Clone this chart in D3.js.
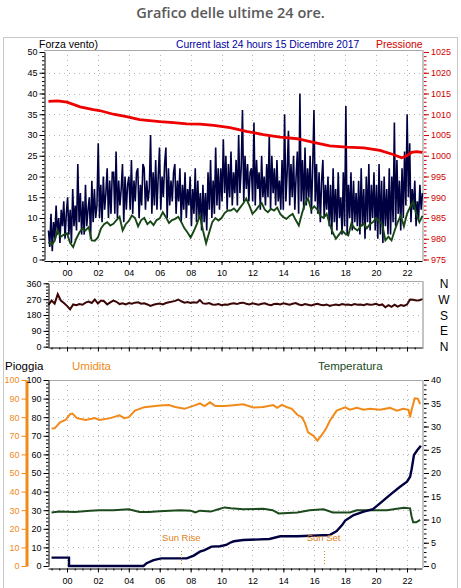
<!DOCTYPE html>
<html><head><meta charset="utf-8">
<script src="https://cdn.jsdelivr.net/npm/d3@7"></script>
<style>body{margin:0;background:#fff} svg{display:block}</style>
</head><body><svg id="c" width="461" height="588"></svg>
<script>
// ---------- DATA ----------
const hourTicks = [0,2,4,6,8,10,12,14,16,18,20,22];
const hourLabels = ["00","02","04","06","08","10","12","14","16","18","20","22"];
const seriesStart = -1.2, seriesEnd = 23.0; // hours (evenly spaced samples)

// Forza vento (raffica) - navy
const windSpeed = [7,3,11,2,9,5,13,6,10,4,12,8,14,5,11,
 15,6,12,4,17,8,13,7,23,9,16,6, 14,6,18,8,12,15,5,19,9,17,10,13, 28,10,18,9,20,12,16,22,10,19,11,21,
 21,11,26,10,19,13,17,23,9,20,12,18, 20,12,24,11,19,14,21,22,10,18,13,23, 22,12,19,14,17,30,11,21,13,24,12,20,
 27,12,20,15,23,27,10,22,13,19,14,21, 23,11,19,14,22,9,18,12,21,10,17,13, 20,8,17,11,22,9,19,10,16,7,18,9,
 16,7,21,12,24,10,19,11,27,13,22,12, 22,14,29,16,25,12,23,15,26,13,21,16, 24,13,30,16,22,36,14,25,17,23,14,21,
 22,14,33,13,24,17,21,12,25,15,20,13, 23,15,30,12,25,16,22,13,24,14,19,12, 24,12,35,14,21,31,13,23,15,25,12,20,
 26,11,40,14,24,12,27,13,22,15,25,11, 22,36,14,23,11,21,9,19,24,10,18,12, 20,8,18,6,22,9,17,7,21,10,15,6,
 21,8,37,6,18,10,21,7,19,9,16,8, 19,6,22,8,17,5,20,9,23,7,18,10, 21,7,18,5,23,6,19,4,20,8,17,6,
 22,6,20,9,33,8,24,11,19,7,22,10, 26,13,35,15,28,9,17,12,19,8,14,10,18,12,16];
// Forza vento media - dark green
const windAvg = [4.2,3.5,4.5,7,5.5,6,6.3,4,3,5,6.5,7.5,7,7.8,4.6,4.5,5.3,7.5,8.5,9,8.2,8.6,9.5,10.3,7,8.5,
 9.3,10.6,10,8,9.5,10,8.5,9.2,8.3,9.5,9.9,11.4,10.2,8.8,9.5,9.8,10.3,9,7.5,6.5,5.3,6.8,8.5,10.6,7,3.9,
 6.5,9,10,9.4,10,11.2,11.8,11.8,12.3,11.5,12.5,13.5,14.7,13,11,11.8,12.8,13.6,12,11.4,12.2,11.8,12.5,11,
 10.2,9.8,10.5,11,9.5,8.2,11,13.5,14.7,12,12.8,12,10.5,10,11,8.5,6.5,5,6,7,6.2,5.8,8.7,7.5,7,8,8.7,7.5,
 8.5,9,10,9.2,8.5,4.6,5.5,4.6,7,9,10.6,8,11,12.6,14,11,9,10.5];
// Pressione [ora, hPa]
const pressure = [[-1.2,1013.1],[-0.6,1013.2],[0,1012.9],[0.85,1011.8],[1.7,1011.1],[2.1,1010.9],[3,1010],
 [3.85,1009.4],[4.7,1008.7],[6,1008.2],[6.9,1008],[7.75,1007.7],[8.6,1007.6],[9.5,1007.3],[10.55,1006.8],
 [11.6,1005.9],[12.7,1005.1],[13.8,1004.5],[14.9,1004.1],[15.95,1003.2],[17.0,1002.4],[18.1,1002.1],
 [19.2,1001.9],[20.25,1001.3],[21.1,1000.3],[21.66,999.5],[22.0,1000],[22.3,1000.8],[22.6,1001],[23.0,1000.8]];
// Direzione vento (gradi) - evenly spaced
const windDir = [237,262,245,298,262,248,232,212,240,236,242,238,250,256,248,268,245,262,258,240,252,262,255,
 242,246,240,248,244,250,252,244,246,240,232,238,242,245,240,248,252,256,260,268,258,250,254,248,252,250,
 265,246,244,248,240,238,242,236,240,238,244,246,242,248,250,244,240,246,242,238,244,246,240,236,242,244,
 240,246,242,238,244,248,240,236,242,238,234,240,244,238,236,240,232,236,240,236,242,238,240,236,242,238,
 240,236,242,238,240,244,236,240,224,236,226,238,228,236,232,240,268,266,262,264,270];
// Umidita [ora, %]
const humidity = [[-1.0,73.9],[-0.8,74],[-0.45,77.3],[-0.1,78.5],[0.2,81.7],[0.35,82],[0.65,79.5],[1.2,78.5],
 [1.8,79.5],[2.1,78.5],[2.8,79.5],[3.4,81],[3.7,79.5],[4.0,80],[4.4,83.6],[5.0,85.4],[6.0,86.3],[6.6,86.5],
 [7.0,85.5],[7.6,84.5],[8.3,86.5],[8.6,87.4],[8.9,86],[9.25,88],[9.6,86],[10.2,86],[10.6,86.3],[11.4,87],
 [12.05,85.2],[12.7,85.5],[13.35,86.5],[13.6,85],[13.9,86.6],[14.2,85.5],[14.55,84.5],[14.9,81.3],[15.2,80],
 [15.4,76.8],[15.6,71.8],[15.95,70],[16.2,67.4],[16.5,70.6],[16.8,74.5],[17.0,78],[17.45,83.5],[18.0,85.3],
 [18.3,84],[18.75,85],[19.2,84],[19.6,84.5],[20.25,84],[20.9,85],[21.35,83.5],[21.75,84.5],[22.1,84],
 [22.2,80],[22.3,84],[22.5,90.1],[22.7,90],[22.85,87]];
// Temperatura [ora, C]
const temperature = [[-1.0,11.5],[-0.5,11.7],[0.5,11.6],[1.5,11.9],[2.1,12.0],[3,12.0],[4,12.2],[4.7,11.6],
 [5.3,11.6],[6,11.8],[7.3,12],[8.0,11.9],[8.3,11.5],[8.6,11.9],[9.3,11.7],[9.8,12.2],[10.2,12.6],[10.6,12.4],
 [11.4,12.2],[12.7,12.3],[13.3,12.0],[13.7,11.3],[14.9,11.5],[15.7,12.0],[16.6,12.2],[17.2,11.5],[18.3,11.5],
 [18.75,12],[19.6,12],[20.7,12.0],[21.35,12.3],[21.8,12.5],[22.2,12.4],[22.3,10.6],[22.4,9.4],[22.6,9.4],[22.85,9.9]];
// Pioggia [ora, mm]
const rain = [[-1.0,4.5],[0.13,4.5],[0.13,0],[4.95,0],[5.15,1.5],[5.6,3.2],[6.1,4.1],[7.75,4.1],[8.2,5.6],
 [8.6,7.7],[8.9,8.5],[9.35,10.4],[9.9,10.6],[10.3,11.3],[10.55,12.5],[10.8,13.3],[11.4,14],[13.1,14.5],
 [13.8,16],[14.9,16],[17.0,16.7],[17.45,18.8],[17.8,22],[18.0,24.4],[18.55,27.4],[19.2,29.2],[19.8,30.6],
 [20.25,33.7],[20.9,38.2],[21.55,42.6],[22.0,45.3],[22.2,48],[22.3,52],[22.45,59.7],[22.7,62.7],[22.9,64.7]];
const sunRise = 7.4, sunSet = 16.6;
const windTicks = [0,5,10,15,20,25,30,35,40,45,50];
const pressTicks = [975,980,985,990,995,1000,1005,1010,1015,1020,1025];
const dirTicks = [0,90,180,270,360];
const dirLetters = ["N","E","S","W","N"];
const pctTicks = [0,10,20,30,40,50,60,70,80,90,100];
const tempTicks = [0,5,10,15,20,25,30,35,40];

// ---------- DRAW ----------
const FONT = "'Liberation Sans', Arial, sans-serif";
const svg = d3.select("#c");
const x = d3.scaleLinear().domain([0,22]).range([67,407]);
const evenT = (arr) => arr.map((v,i) => [seriesStart + i*(seriesEnd-seriesStart)/(arr.length-1), v]);

svg.append("rect").attr("x",3.5).attr("y",37.5).attr("width",454).attr("height",560)
  .attr("fill","none").attr("stroke","#c8c8c8");
svg.append("text").attr("x",230.5).attr("y",18).attr("text-anchor","middle")
  .attr("font-family","'Open Sans', sans-serif").attr("font-weight",600).attr("font-size",14.5)
  .attr("fill","#5a5a5a").text("Grafico delle ultime 24 ore.");

function txt(xp, yp, s, color, size, anchor){
  return svg.append("text").attr("x",xp).attr("y",yp).attr("fill",color).attr("font-size",size)
    .attr("font-family",FONT).attr("text-anchor",anchor||"start").text(s);
}

function panel(left, right, top, bottom, yScale, yMajors){
  const xs = x.copy().domain([x.invert(left), x.invert(right)]).range([left,right]);
  const g = svg.append("g");
  g.selectAll(".gh").data(yMajors.filter(v => yScale(v) < bottom-2 && yScale(v) > top+2)).join("line")
    .attr("x1",left).attr("x2",right).attr("y1",d=>Math.round(yScale(d))+0.5).attr("y2",d=>Math.round(yScale(d))+0.5)
    .attr("stroke","#b4b4b4").attr("stroke-dasharray","1,4");
  g.selectAll(".gv").data(hourTicks).join("line")
    .attr("x1",d=>Math.round(xs(d))+0.5).attr("x2",d=>Math.round(xs(d))+0.5).attr("y1",top).attr("y2",bottom)
    .attr("stroke","#b4b4b4").attr("stroke-dasharray","1,4");
  g.append("line").attr("x1",left).attr("x2",right+1).attr("y1",top+0.5).attr("y2",top+0.5).attr("stroke","#a8a8a8");
  g.append("line").attr("x1",right+1).attr("x2",right+1).attr("y1",top).attr("y2",bottom+2).attr("stroke","#c4c4c4").attr("stroke-width",2);
  return xs;
}

function xAxis(xs, yPos, labels){
  const minors = d3.range(-1, 23.01, 0.5).filter(h => xs(h) >= xs.range()[0] && xs(h) <= xs.range()[1]);
  const g = svg.append("g").attr("transform",`translate(0,${yPos})`);
  g.append("g").call(d3.axisBottom(xs).tickValues(minors).tickSize(2).tickFormat("").tickSizeOuter(0))
    .call(s=>s.select(".domain").remove());
  const a = g.append("g").call(d3.axisBottom(xs).tickValues(hourTicks).tickSize(4).tickPadding(5).tickSizeOuter(0)
    .tickFormat((d,i)=> labels ? hourLabels[i] : ""));
  a.selectAll("text").attr("font-size",9).attr("font-family",FONT).attr("fill","#000");
  g.selectAll("line").attr("stroke","#000");
  a.select(".domain").attr("stroke","#000");
}

function yAxis(orient, scale, xPos, majors, minors, color, domainColor, domainWidth){
  const mk = orient === "left" ? d3.axisLeft : d3.axisRight;
  const g = svg.append("g").attr("transform",`translate(${xPos},0)`);
  if (minors) g.append("g").call(mk(scale).tickValues(minors).tickSize(2.5).tickFormat("").tickSizeOuter(0))
     .call(s=>{s.select(".domain").remove(); s.selectAll("line").attr("stroke",color);});
  const a = g.append("g").call(mk(scale).tickValues(majors).tickSize(5).tickPadding(2).tickSizeOuter(0)
     .tickFormat(d3.format("d")));
  a.select(".domain").attr("stroke",domainColor).attr("stroke-width",domainWidth);
  a.selectAll(".tick line").attr("stroke",color);
  a.selectAll(".tick text").attr("fill",color).attr("font-size",9).attr("font-family",FONT);
  return a;
}

// ===== TOP: wind speed + pressure =====
const yW = d3.scaleLinear().domain([0,50]).range([259.5,52]);
const yP = d3.scaleLinear().domain([975,1025]).range([259.5,52]);
const xsT = panel(44, 422, 50, 259, yW, windTicks);
const lineW = d3.line().x(d=>xsT(d[0])).y(d=>yW(d[1]));
svg.append("path").datum(evenT(windSpeed)).attr("d",lineW).attr("fill","none").attr("stroke","#000040").attr("stroke-width",1.6);
svg.append("path").datum(evenT(windAvg)).attr("d",lineW).attr("fill","none").attr("stroke","#174717").attr("stroke-width",1.9);
svg.append("path").datum(pressure).attr("d",d3.line().x(d=>xsT(d[0])).y(d=>yP(d[1])))
  .attr("fill","none").attr("stroke","#ee0000").attr("stroke-width",2.8);
yAxis("left", yW, 44.5, windTicks, d3.range(0,50.1,1), "#000", "#000", 1);
yAxis("right", yP, 424, pressTicks, d3.range(975,1025.1,1), "#d00000", "none", 1);
xAxis(xsT, 261, true);
txt(39, 48, "Forza vento)", "#000", 10.5);
txt(176, 48, "Current last 24 hours 15 Dicembre 2017", "#0000a0", 10.3);
txt(376, 48, "Pressione", "#d00000", 10.5);

// ===== MIDDLE: wind direction =====
const yD = d3.scaleLinear().domain([0,360]).range([346.7,283.3]);
const xsM = panel(48, 422, 281, 347, yD, dirTicks);
svg.append("path").datum(evenT(windDir)).attr("d",d3.line().x(d=>xsM(d[0])).y(d=>yD(d[1])))
  .attr("fill","none").attr("stroke","#3a0606").attr("stroke-width",2);
yAxis("left", yD, 48.5, dirTicks, d3.range(0,360.1,18), "#000", "#000", 1);
xAxis(xsM, 347.5, false);
dirTicks.forEach((v,i)=> txt(444, yD(v)+4.5, dirLetters[i], "#000", 12, "middle"));

// ===== BOTTOM: rain, humidity, temperature =====
const yPct = d3.scaleLinear().domain([0,100]).range([566,380]);
const yT = d3.scaleLinear().domain([0,40]).range([566,380]);
const xsB = panel(48, 422, 380, 566, yPct, pctTicks);
svg.append("path").datum(humidity).attr("d",d3.line().x(d=>xsB(d[0])).y(d=>yPct(d[1])))
  .attr("fill","none").attr("stroke","#f28a1a").attr("stroke-width",2);
svg.append("path").datum(temperature).attr("d",d3.line().x(d=>xsB(d[0])).y(d=>yT(d[1])))
  .attr("fill","none").attr("stroke","#1c4a1c").attr("stroke-width",2);
svg.append("path").datum(rain).attr("d",d3.line().x(d=>xsB(d[0])).y(d=>yPct(d[1])))
  .attr("fill","none").attr("stroke","#000040").attr("stroke-width",2.4);
[[sunRise,"Sun Rise"],[sunSet,"Sun Set"]].forEach(([h,s])=>{
  svg.append("line").attr("x1",Math.round(xsB(h))+0.5).attr("x2",Math.round(xsB(h))+0.5)
    .attr("y1",551).attr("y2",566).attr("stroke","#e08020").attr("stroke-dasharray","1,2");
  txt(xsB(h), 541, s, "#e08020", 9.5, "middle");
});
yAxis("left", yPct, 26.5, pctTicks, null, "#f08a1a", "#f08a1a", 3);
yAxis("left", yPct, 48.5, pctTicks, d3.range(0,100.1,2), "#000", "#000", 1);
yAxis("right", yT, 424, tempTicks, d3.range(0,40.1,1), "#000", "none", 1);
xAxis(xsB, 568.5, true);
txt(5, 370, "Pioggia", "#000", 11.5);
txt(72, 370, "Umidita", "#f08a1a", 11.5);
txt(318, 370, "Temperatura", "#1a4a1a", 11.5);
</script></body></html>
